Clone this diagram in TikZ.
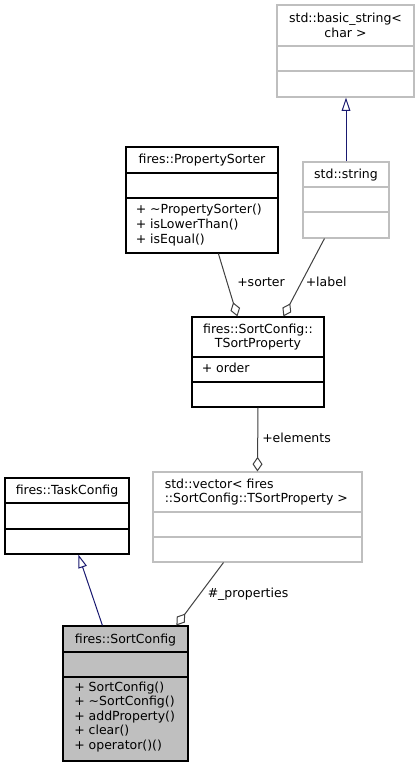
\documentclass[tikz,border=0pt]{standalone}
\usepackage{fontspec}
\usetikzlibrary{arrows.meta,fit,calc}
\newfontfamily\dv{DejaVu Sans}
\definecolor{navyedge}{RGB}{25,25,112}
\definecolor{edgegrey}{RGB}{64,64,64}
\definecolor{boxgrey}{RGB}{191,191,191}
\definecolor{titlegrey}{RGB}{191,191,191}

% class box: name, style, x1, y1, x2, y2, first and second compartment rule
\newcommand\umlclass[8]{%
  \node[#2, fit={(#3,#4)(#5,#6)}, inner sep=0pt] (#1) {};
  \draw[#2 rule] (#3,#7) -- (#5,#7);
  \draw[#2 rule] (#3,#8) -- (#5,#8);
}

\tikzset{
  solidbox/.style={draw=black, line width=0.9pt},
  solidbox rule/.style={draw=black, line width=0.9pt},
  greybox/.style={draw=boxgrey, line width=0.8pt},
  greybox rule/.style={draw=boxgrey, line width=0.8pt},
  mainbox/.style={draw=black, fill=titlegrey, line width=0.9pt},
  mainbox rule/.style={draw=black, line width=0.9pt},
  txt/.style={font=\dv\fontsize{9.375}{11}\selectfont, inner sep=0pt, anchor=base},
  ltxt/.style={txt, anchor=base west},
  inherit/.style={draw=navyedge, line width=0.75pt,
    -{Triangle[open, length=10pt, width=6.5pt, fill=white]}},
  aggr/.style={draw=edgegrey, line width=0.75pt,
    -{Diamond[open, length=11pt, width=7.5pt, fill=white]}},
}

\begin{document}
\begin{tikzpicture}[x=0.75pt, y=-0.75pt]
\fill[white] (0,0) rectangle (420,767);
\useasboundingbox (0,0) rectangle (420,767);

% classes
\umlclass{bs}{greybox}{277}{5}{414}{97}{46}{71}
\umlclass{ps}{solidbox}{126}{147}{278}{253}{173}{198}
\umlclass{str}{greybox}{303}{162}{389}{238}{187}{212}
\umlclass{tsp}{solidbox}{192}{317}{324}{407}{357}{382}
\umlclass{vec}{greybox}{153}{472}{362}{562}{512}{537}
\umlclass{tc}{solidbox}{5}{478}{129}{554}{503}{529}
\umlclass{sc}{mainbox}{63}{626}{188}{761}{652}{677}

% titles and members
\node[txt] (bs-t1) at (345.5,23) {std::basic\_string<};
\node[txt] (bs-t2) at (345.5,37.5) {char >};

\node[txt] (ps-t) at (202,163) {fires::PropertySorter};
\node[ltxt] (ps-m1) at (135.5,213.5) {+ \textasciitilde PropertySorter()};
\node[ltxt] (ps-m2) at (135.5,228.3) {+ isLowerThan()};
\node[ltxt] (ps-m3) at (135.5,243) {+ isEqual()};

\node[txt] (str-t) at (346,178) {std::string};

\node[txt] (tsp-t1) at (258,333) {fires::SortConfig::};
\node[txt] (tsp-t2) at (258,347) {TSortProperty};
\node[ltxt] (tsp-m1) at (201.5,372) {+ order};

\node[ltxt] (vec-t1) at (164.5,488) {std::vector< fires};
\node[ltxt] (vec-t2) at (164.5,502) {::SortConfig::TSortProperty >};

\node[txt] (tc-t) at (67,494) {fires::TaskConfig};

\node[txt] (sc-t) at (125.5,643) {fires::SortConfig};
\node[ltxt] (sc-m1) at (74,691) {+ SortConfig()};
\node[ltxt] (sc-m2) at (74,705.5) {+ \textasciitilde SortConfig()};
\node[ltxt] (sc-m3) at (74,720) {+ addProperty()};
\node[ltxt] (sc-m4) at (74,734.5) {+ clear()};
\node[ltxt] (sc-m5) at (74,749) {+ operator()()};

% inheritance
\draw[inherit] (str.north) -- (str.north |- bs.south);
\draw[inherit] ($(sc.north west)+(40,0)$) -- ($(tc.south west)+(74,0)$);

% aggregation
\draw[aggr] ($(ps.south west)+(93,0)$) -- ($(tsp.north west)+(46,0)$);
\draw[aggr] ($(str.south west)+(22,0)$) -- ($(tsp.north west)+(92,0)$);
\draw[aggr] (tsp.south) -- ($(vec.north west)+(105,0)$);
\draw[aggr] ($(vec.south west)+(71,0)$) -- ($(sc.north west)+(114,0)$);

% role labels
\node[ltxt] (l-sorter) at (237,286.5) {+sorter};
\node[ltxt] (l-label) at (305.5,286) {+label};
\node[ltxt] (l-elements) at (262,442) {+elements};
\node[ltxt] (l-props) at (207.5,597) {\#\_properties};
\end{tikzpicture}
\end{document}
